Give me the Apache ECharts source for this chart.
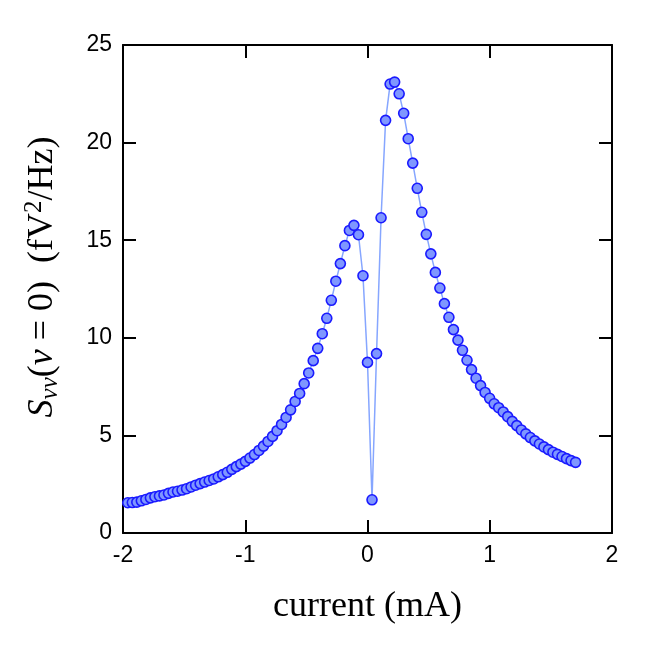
<!DOCTYPE html>
<html>
<head>
<meta charset="utf-8">
<script src="https://cdn.jsdelivr.net/npm/echarts@6/dist/echarts.min.js"></script>
<style>
  html, body { margin: 0; padding: 0; background: #fff; }
  #chart { width: 665px; height: 665px; }
</style>
</head>
<body>
<div id="chart"></div>
<script>
// current (mA)
var currentMA = [
  -1.961, -1.924, -1.887, -1.850, -1.813, -1.776, -1.739, -1.702, -1.665, -1.628,
  -1.591, -1.554, -1.517, -1.480, -1.443, -1.406, -1.369, -1.332, -1.295, -1.258,
  -1.221, -1.184, -1.147, -1.110, -1.073, -1.036, -0.999, -0.962, -0.925, -0.888,
  -0.851, -0.814, -0.777, -0.740, -0.703, -0.666, -0.629, -0.592, -0.555, -0.518,
  -0.481, -0.444, -0.407, -0.370, -0.333, -0.296, -0.259, -0.222, -0.185, -0.148,
  -0.111, -0.074, -0.037, 0.000, 0.037, 0.074, 0.111, 0.148, 0.185, 0.222,
  0.259, 0.296, 0.333, 0.370, 0.407, 0.444, 0.481, 0.518, 0.555, 0.592,
  0.629, 0.666, 0.703, 0.740, 0.777, 0.814, 0.851, 0.888, 0.925, 0.962,
  0.999, 1.036, 1.073, 1.110, 1.147, 1.184, 1.221, 1.258, 1.295, 1.332,
  1.369, 1.406, 1.443, 1.480, 1.517, 1.554, 1.591, 1.628, 1.665, 1.702
];
// S_vv(nu=0) in fV^2/Hz
var svv = [
  1.55, 1.56, 1.58, 1.65, 1.72, 1.80, 1.86, 1.90, 1.95, 2.03,
  2.10, 2.14, 2.20, 2.27, 2.36, 2.45, 2.53, 2.61, 2.69, 2.77,
  2.88, 2.99, 3.11, 3.26, 3.40, 3.53, 3.67, 3.84, 4.02, 4.23,
  4.45, 4.69, 4.95, 5.24, 5.56, 5.92, 6.31, 6.74, 7.15, 7.65,
  8.20, 8.83, 9.46, 10.21, 11.00, 11.92, 12.90, 13.80, 14.72, 15.50,
  15.76, 15.28, 13.18, 8.74, 1.70, 9.19, 16.15, 21.14, 23.00, 23.10,
  22.50, 21.50, 20.20, 18.95, 17.66, 16.43, 15.30, 14.30, 13.35, 12.55,
  11.75, 11.05, 10.42, 9.88, 9.36, 8.85, 8.37, 7.93, 7.55, 7.20,
  6.90, 6.62, 6.42, 6.20, 5.96, 5.72, 5.50, 5.28, 5.08, 4.89,
  4.72, 4.56, 4.41, 4.27, 4.14, 4.03, 3.92, 3.81, 3.71, 3.62
];
var xTicks = { min: -2, max: 2, interval: 1 };
var yTicks = { min: 0, max: 25, interval: 5 };

var points = currentMA.map(function (x, i) { return [x, svv[i]]; });

var chart = echarts.init(document.getElementById('chart'), null, { renderer: 'canvas' });

var frameLine = { show: true, onZero: false, lineStyle: { color: '#000', width: 2 } };
var frameTick = { show: true, inside: true, length: 13, lineStyle: { color: '#000', width: 2 } };
var tickFont = { color: '#000', fontFamily: 'Liberation Sans', fontSize: 23 };
var serif = 'Liberation Serif';

var option = {
  animation: false,
  backgroundColor: '#fff',
  grid: { left: 123, right: 53, top: 45, bottom: 132 },
  xAxis: [
    {
      type: 'value', min: xTicks.min, max: xTicks.max, interval: xTicks.interval,
      axisLine: frameLine, axisTick: frameTick, splitLine: { show: false },
      axisLabel: Object.assign({ margin: 11 }, tickFont),
      name: 'current (mA)', nameLocation: 'middle', nameGap: 56,
      nameTextStyle: { color: '#000', fontFamily: serif, fontSize: 36 }
    },
    {
      type: 'value', position: 'top', min: xTicks.min, max: xTicks.max, interval: xTicks.interval,
      axisLine: frameLine, axisTick: frameTick, splitLine: { show: false },
      axisLabel: { show: false }
    }
  ],
  yAxis: [
    {
      type: 'value', min: yTicks.min, max: yTicks.max, interval: yTicks.interval,
      axisLine: frameLine, axisTick: frameTick, splitLine: { show: false },
      axisLabel: Object.assign({ margin: 11 }, tickFont),
      name: '{i|S}{s|vv}{n|(}{i|ν}{n| = 0)  (fV}{p|2}{n|/Hz)}',
      nameLocation: 'middle', nameGap: 60, nameRotate: 90,
      nameTextStyle: {
        padding: [0, 0, 0, 24],
        rich: {
          n: { color: '#000', fontFamily: serif, fontSize: 36 },
          i: { color: '#000', fontFamily: serif, fontSize: 36, fontStyle: 'italic' },
          s: { color: '#000', fontFamily: serif, fontSize: 25, fontStyle: 'italic', padding: [16, 0, 0, 0] },
          p: { color: '#000', fontFamily: serif, fontSize: 25, padding: [0, 0, 16, 0] }
        }
      }
    },
    {
      type: 'value', position: 'right', min: yTicks.min, max: yTicks.max, interval: yTicks.interval,
      axisLine: frameLine, axisTick: frameTick, splitLine: { show: false },
      axisLabel: { show: false }
    }
  ],
  series: [
    {
      type: 'line',
      data: points,
      smooth: false,
      symbol: 'circle',
      symbolSize: 10,
      lineStyle: { color: '#86a6ff', width: 1.5 },
      itemStyle: { color: '#7f97ff', borderColor: '#1a1aff', borderWidth: 1.6 }
    }
  ]
};

option && chart.setOption(option);
</script>
</body>
</html>
